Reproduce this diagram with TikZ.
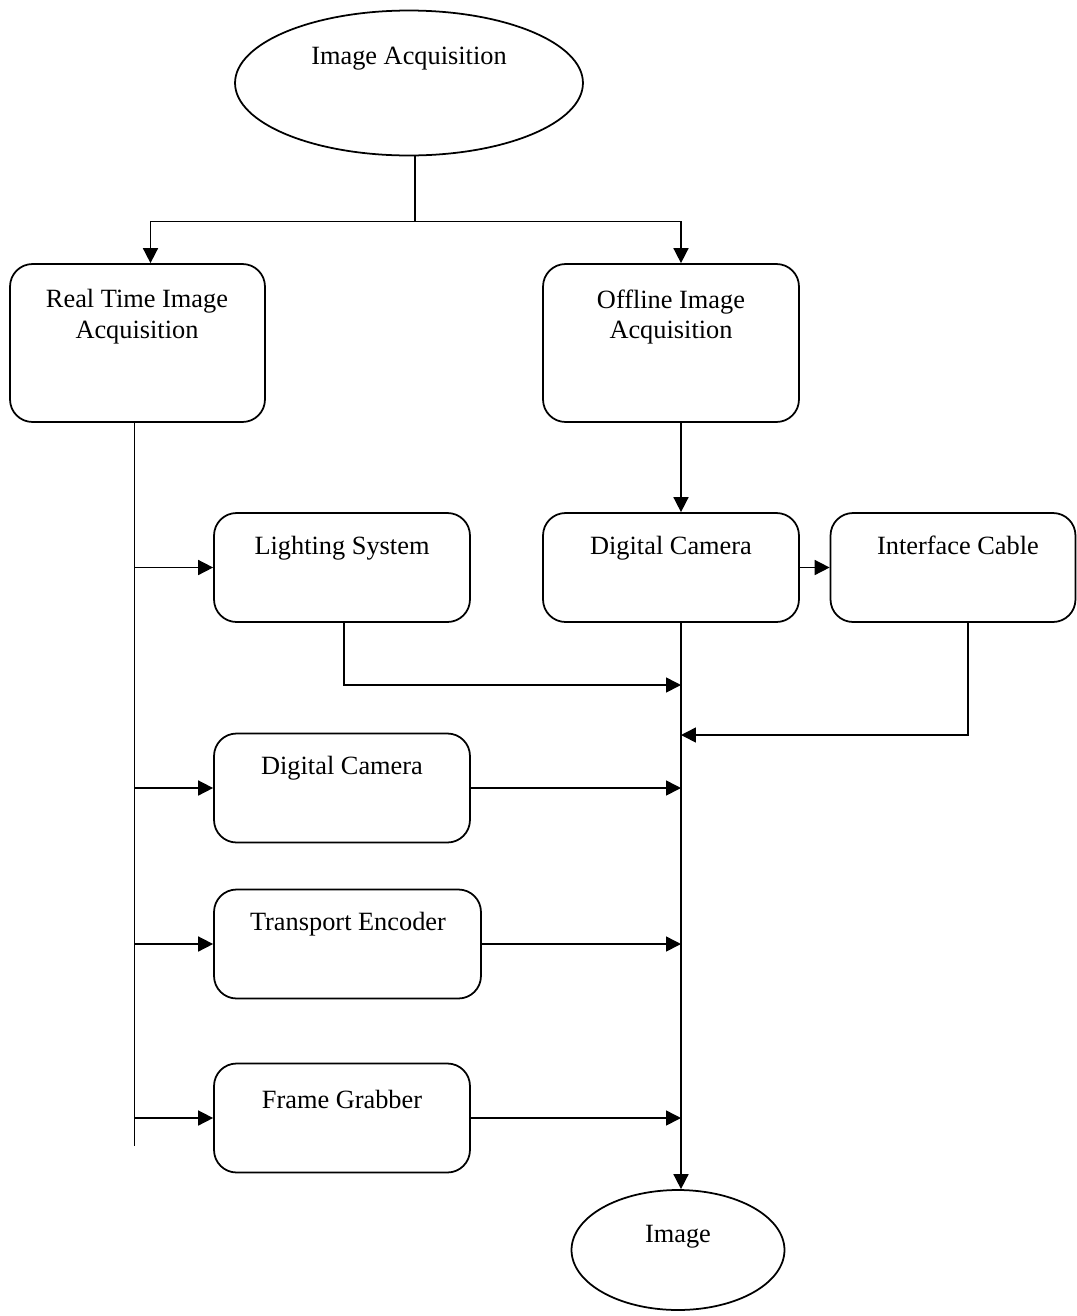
\documentclass[tikz,border=0pt]{standalone}
\usepackage{fontspec}
\setmainfont{Liberation Serif}
\usetikzlibrary{shapes.geometric,arrows.meta,positioning}
\tikzset{box/.style={draw, rounded corners=0.45cm, line width=1pt,
         minimum width=5.12cm, minimum height=2.18cm, inner sep=0pt},
         oval/.style={draw, ellipse, line width=1pt, inner sep=0pt},
         txt/.style={align=center, inner sep=0pt,
         font=\fontsize{15}{17.6}\selectfont},
         arr/.style={-{Triangle[length=8.5pt,width=8.5pt]}, line width=0.9pt}}

\begin{document}
\begin{tikzpicture}[x=0.02cm, y=-0.02cm]
\useasboundingbox (0,0) rectangle (1076,1316);
% ovals
\node[oval, minimum width=6.96cm, minimum height=2.9cm] (acq) at (409,83) {};
\node[txt] (acqtxt) at (409,59) {Image Acquisition};
\node[oval, minimum width=4.26cm, minimum height=2.4cm] (img) at (678,1250) {};
\node[txt] (imgtxt) at (678,1237) {Image};
% first level
\node[box, minimum width=5.1cm, minimum height=3.16cm] (rt) at (137.5,343) {};
\node[txt] (rttxt) at (137,317) {Real Time Image\\Acquisition};
\node[box, minimum height=3.16cm] (off) at (671,343) {};
\node[txt] (offtxt) at (671,317) {Offline Image\\Acquisition};
% components
\node[box] (light) at (342,567.5) {};
\node[txt] (lighttxt) at (342,548) {Lighting System};
\node[box] (dcr) at (671,567.5) {};
\node[txt] (dcrtxt) at (671,548) {Digital Camera};
\node[box, minimum width=4.9cm] (ic) at (953,567.5) {};
\node[txt] (ictxt) at (958,545) {Interface Cable};
\node[box] (dcl) at (342,788) {};
\node[txt] (dcltxt) at (342,768) {Digital Camera};
\node[box, minimum width=5.34cm] (enc) at (347.5,944) {};
\node[txt] (enctxt) at (348,924) {Transport Encoder};
\node[box] (grab) at (342,1118) {};
\node[txt] (grabtxt) at (342,1099) {Frame Grabber};
% split from the top
\draw[line width=0.9pt] ([xshift=0.12cm]acq.south) -- ++(0,65) coordinate (split);
\draw[arr] (split) -| ([xshift=0.26cm]rt.north);
\draw[arr] (split) -| ([xshift=0.2cm]off.north);
% offline branch
\draw[arr] ([xshift=0.2cm]off.south) -- ([xshift=0.2cm]dcr.north);
\draw[arr] (dcr) -- (ic);
\coordinate (spine) at ([xshift=0.2cm]dcr.south);
\draw[arr] (spine) -- (spine |- img.north);
% real time branch
\draw[line width=0.9pt] ([xshift=-0.06cm]rt.south) -- ++(0,723) coordinate (busend);
\draw[arr] (busend |- light.west) -- (light.west);
\draw[arr] (busend |- dcl.west) -- (dcl.west);
\draw[arr] (busend |- enc.west) -- (enc.west);
\draw[arr] (busend |- grab.west) -- (grab.west);
% into the spine
\coordinate (inlight) at (681,685);
\coordinate (incable) at (681,735);
\draw[arr] ([xshift=0.04cm]light.south) |- (inlight);
\draw[arr] ([xshift=0.3cm]ic.south) |- (incable);
\draw[arr] (dcl.east) -- (spine |- dcl.east);
\draw[arr] (enc.east) -- (spine |- enc.east);
\draw[arr] (grab.east) -- (spine |- grab.east);
\end{tikzpicture}
\end{document}
